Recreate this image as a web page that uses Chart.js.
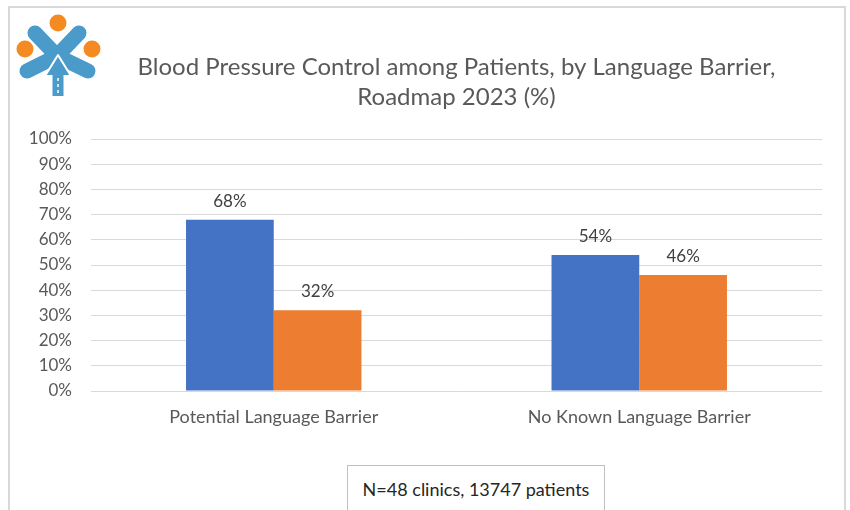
<!DOCTYPE html>
<html>
<head>
<meta charset="utf-8">
<script src="https://cdn.jsdelivr.net/npm/chart.js@4.4.0/dist/chart.umd.min.js"></script>
<style>
    html, body { margin: 0; padding: 0; background: #fff; }
    #wrap { position: relative; width: 850px; height: 510px; overflow: hidden; }
    #frame { position: absolute; left: 8px; top: 6px; width: 838px; height: 520px; border: 2px solid #d9d9d9; box-sizing: border-box; }
    #logo { position: absolute; left: 0; top: 0; }
    #note {
        position: absolute; left: 347px; top: 465px; width: 258px; height: 60px;
        border: 1.5px solid #bfbfbf; box-sizing: border-box; background: #fff;
        font-family: Lato, "Open Sans", sans-serif; font-size: 18px; color: #262626;
        text-align: center; padding-top: 12px;
    }
    canvas { position: absolute; left: 0; top: 0; }
</style>
</head>
<body>
<div id="wrap">
    <div id="frame"></div>
    <canvas id="bp-chart" width="850" height="510"></canvas>
    <svg id="logo" width="110" height="105" viewBox="0 0 110 105">
        <!-- arms -->
        <polyline points="35,33 57,56 88,71" fill="none" stroke="#4a9bc9" stroke-width="15" stroke-linecap="round" stroke-linejoin="round"/>
        <polyline points="79,33 57,56 27,71" fill="none" stroke="#4a9bc9" stroke-width="15" stroke-linecap="round" stroke-linejoin="round"/>
        <!-- arrow -->
        <polygon points="58,55 71,76 45,76" fill="#4a9bc9" stroke="#fff" stroke-width="2" stroke-linejoin="round"/>
        <rect x="52.5" y="74" width="11" height="22" fill="#4a9bc9"/>
        <line x1="58" y1="78" x2="58" y2="95" stroke="#fff" stroke-width="1.5" stroke-dasharray="3,3"/>
        <!-- heads -->
        <circle cx="58" cy="23" r="8.5" fill="#f38a22"/>
        <circle cx="25" cy="49" r="8.5" fill="#f38a22"/>
        <circle cx="92" cy="49" r="8.5" fill="#f38a22"/>
    </svg>
    <div id="note">N=48 clinics, 13747 patients</div>
</div>
<script>
// Chart data
const categories = ['Potential Language Barrier', 'No Known Language Barrier'];
const controlled = [68, 54];
const notControlled = [32, 46];
const yTicks = [0, 10, 20, 30, 40, 50, 60, 70, 80, 90, 100];

const FONT = 'Lato, "Open Sans", sans-serif';

// Draws the value labels above each bar
const barLabels = {
    id: 'barLabels',
    afterDatasetsDraw(chart) {
        const ctx = chart.ctx;
        ctx.save();
        ctx.font = '17px ' + FONT;
        ctx.fillStyle = '#404040';
        ctx.textAlign = 'center';
        ctx.textBaseline = 'alphabetic';
        chart.data.datasets.forEach((ds, i) => {
            chart.getDatasetMeta(i).data.forEach((bar, j) => {
                ctx.fillText(ds.data[j] + '%', bar.x, bar.y - 13);
            });
        });
        ctx.restore();
    }
};

const ctx = document.getElementById('bp-chart');
new Chart(ctx, {
    type: 'bar',
    data: {
        labels: categories,
        datasets: [{
            label: 'Controlled',
            data: controlled,
            backgroundColor: '#4472c4',
            barPercentage: 1.0,
            categoryPercentage: 0.48
        }, {
            label: 'Not controlled',
            data: notControlled,
            backgroundColor: '#ed7d31',
            barPercentage: 1.0,
            categoryPercentage: 0.48
        }]
    },
    options: {
        responsive: false,
        animation: false,
        layout: {
            padding: { left: 0, right: 28, top: 12, bottom: 78 }
        },
        plugins: {
            legend: { display: false },
            tooltip: { enabled: false },
            title: {
                display: true,
                fullSize: false,
                text: ['Blood Pressure Control among Patients, by Language Barrier,', 'Roadmap 2023 (%)'],
                color: '#595959',
                font: { family: FONT, size: 24, weight: 'normal', lineHeight: 1.25 },
                padding: { top: 40, bottom: 27 }
            }
        },
        scales: {
            x: {
                grid: { display: false },
                border: { display: false },
                ticks: {
                    color: '#595959',
                    font: { family: FONT, size: 18 },
                    padding: 7
                },
                afterFit(scale) { scale.height = 41; }
            },
            y: {
                min: 0,
                max: 100,
                afterBuildTicks(scale) {
                    scale.ticks = yTicks.map(v => ({ value: v }));
                },
                grid: { color: '#d9d9d9', lineWidth: 1, drawTicks: false },
                border: { display: false },
                ticks: {
                    color: '#595959',
                    font: { family: FONT, size: 17 },
                    padding: 19,
                    callback: v => v + '%'
                },
                afterFit(scale) { scale.width = 91; }
            }
        }
    },
    plugins: [barLabels]
});
</script>
</body>
</html>
